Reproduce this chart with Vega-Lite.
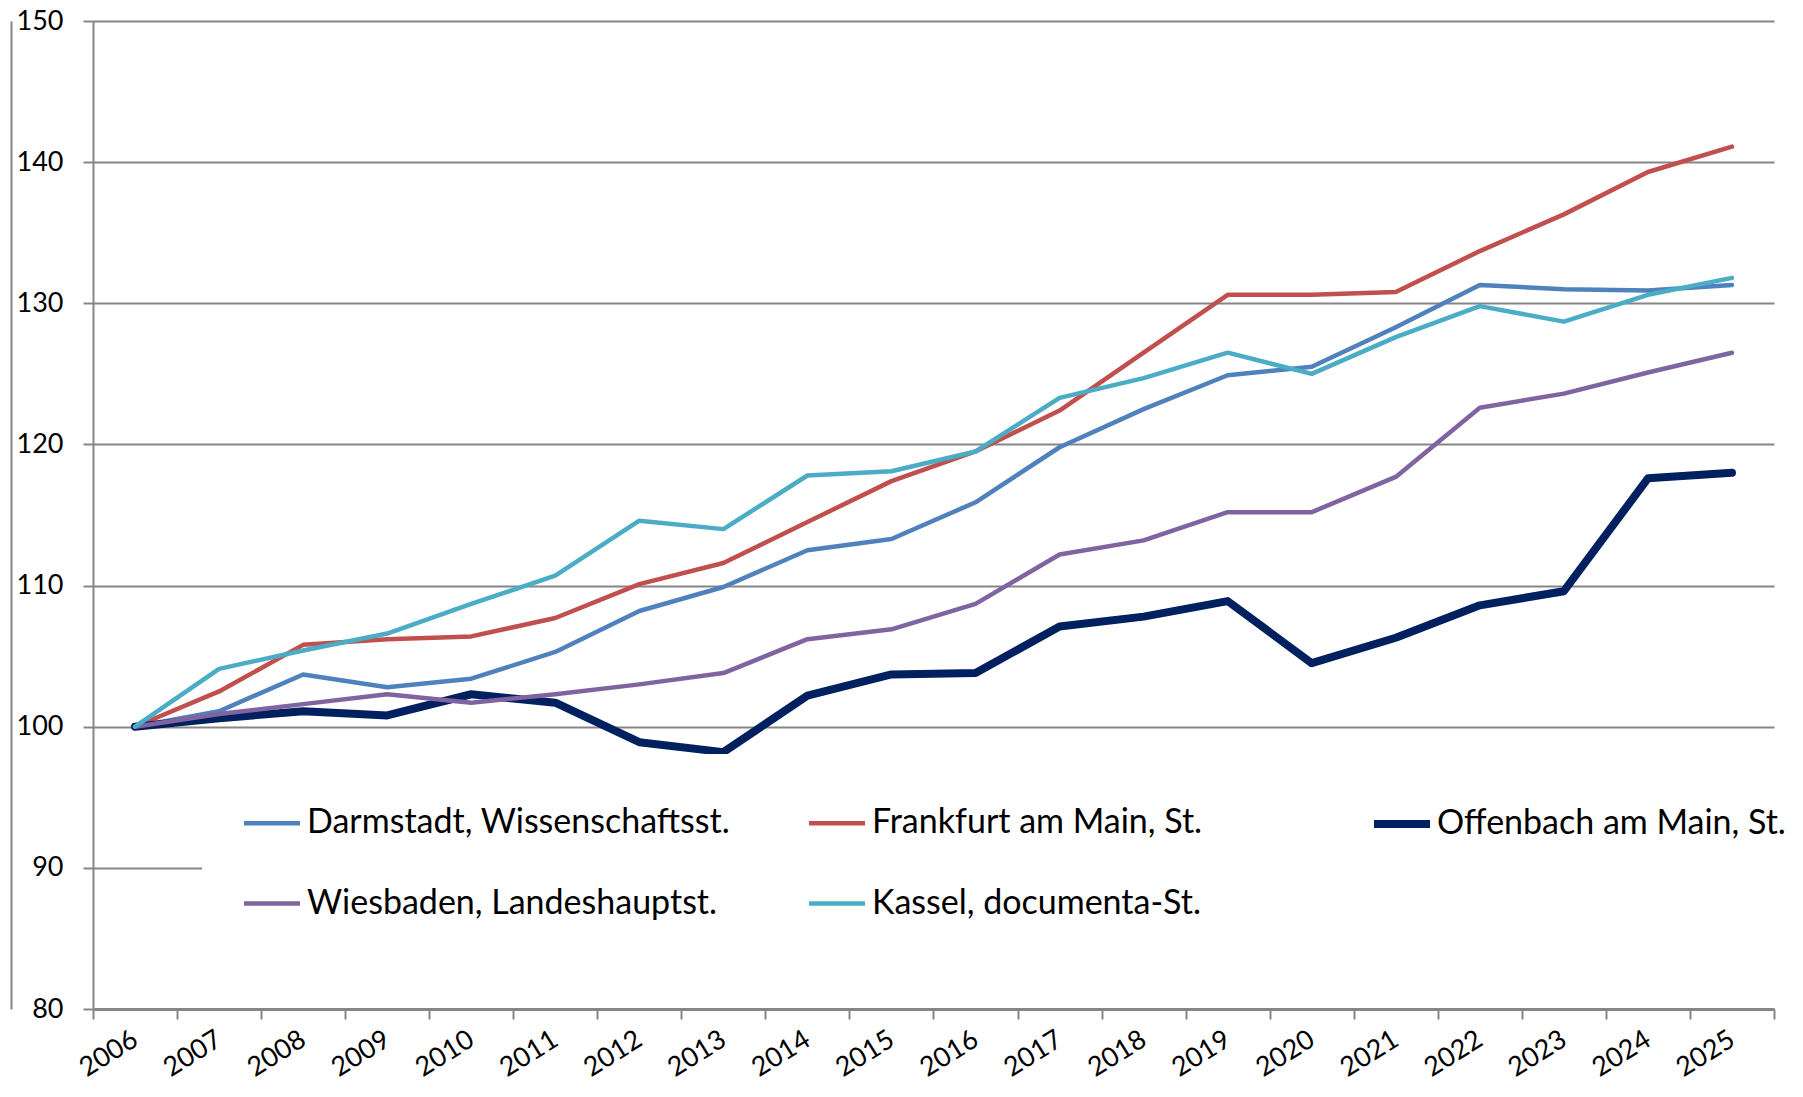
{
  "$schema": "https://vega.github.io/schema/vega-lite/v6.json",
  "width": 1681,
  "height": 988,
  "autosize": {"type": "none"},
  "padding": {"left": 93, "top": 21, "right": 29, "bottom": 88},
  "background": "white",
  "config": {
    "view": {"stroke": null},
    "font": "Lato",
    "axis": {"labelFont": "Lato", "labelColor": "black", "domainColor": "#868686", "tickColor": "#868686", "gridColor": "#868686", "title": null},
    "legend": {"labelFont": "Lato", "labelColor": "black"}
  },
  "data": {"values": [
    {"year": "2006", "city": "Darmstadt, Wissenschaftsst.", "value": 100},
    {"year": "2007", "city": "Darmstadt, Wissenschaftsst.", "value": 101.1},
    {"year": "2008", "city": "Darmstadt, Wissenschaftsst.", "value": 103.7},
    {"year": "2009", "city": "Darmstadt, Wissenschaftsst.", "value": 102.8},
    {"year": "2010", "city": "Darmstadt, Wissenschaftsst.", "value": 103.4},
    {"year": "2011", "city": "Darmstadt, Wissenschaftsst.", "value": 105.3},
    {"year": "2012", "city": "Darmstadt, Wissenschaftsst.", "value": 108.2},
    {"year": "2013", "city": "Darmstadt, Wissenschaftsst.", "value": 109.9},
    {"year": "2014", "city": "Darmstadt, Wissenschaftsst.", "value": 112.5},
    {"year": "2015", "city": "Darmstadt, Wissenschaftsst.", "value": 113.3},
    {"year": "2016", "city": "Darmstadt, Wissenschaftsst.", "value": 115.9},
    {"year": "2017", "city": "Darmstadt, Wissenschaftsst.", "value": 119.8},
    {"year": "2018", "city": "Darmstadt, Wissenschaftsst.", "value": 122.5},
    {"year": "2019", "city": "Darmstadt, Wissenschaftsst.", "value": 124.9},
    {"year": "2020", "city": "Darmstadt, Wissenschaftsst.", "value": 125.5},
    {"year": "2021", "city": "Darmstadt, Wissenschaftsst.", "value": 128.3},
    {"year": "2022", "city": "Darmstadt, Wissenschaftsst.", "value": 131.3},
    {"year": "2023", "city": "Darmstadt, Wissenschaftsst.", "value": 131.0},
    {"year": "2024", "city": "Darmstadt, Wissenschaftsst.", "value": 130.9},
    {"year": "2025", "city": "Darmstadt, Wissenschaftsst.", "value": 131.3},
    {"year": "2006", "city": "Frankfurt am Main, St.", "value": 100},
    {"year": "2007", "city": "Frankfurt am Main, St.", "value": 102.5},
    {"year": "2008", "city": "Frankfurt am Main, St.", "value": 105.8},
    {"year": "2009", "city": "Frankfurt am Main, St.", "value": 106.2},
    {"year": "2010", "city": "Frankfurt am Main, St.", "value": 106.4},
    {"year": "2011", "city": "Frankfurt am Main, St.", "value": 107.7},
    {"year": "2012", "city": "Frankfurt am Main, St.", "value": 110.1},
    {"year": "2013", "city": "Frankfurt am Main, St.", "value": 111.6},
    {"year": "2014", "city": "Frankfurt am Main, St.", "value": 114.5},
    {"year": "2015", "city": "Frankfurt am Main, St.", "value": 117.4},
    {"year": "2016", "city": "Frankfurt am Main, St.", "value": 119.5},
    {"year": "2017", "city": "Frankfurt am Main, St.", "value": 122.4},
    {"year": "2018", "city": "Frankfurt am Main, St.", "value": 126.5},
    {"year": "2019", "city": "Frankfurt am Main, St.", "value": 130.6},
    {"year": "2020", "city": "Frankfurt am Main, St.", "value": 130.6},
    {"year": "2021", "city": "Frankfurt am Main, St.", "value": 130.8},
    {"year": "2022", "city": "Frankfurt am Main, St.", "value": 133.7},
    {"year": "2023", "city": "Frankfurt am Main, St.", "value": 136.3},
    {"year": "2024", "city": "Frankfurt am Main, St.", "value": 139.3},
    {"year": "2025", "city": "Frankfurt am Main, St.", "value": 141.1},
    {"year": "2006", "city": "Offenbach am Main, St.", "value": 100},
    {"year": "2007", "city": "Offenbach am Main, St.", "value": 100.6},
    {"year": "2008", "city": "Offenbach am Main, St.", "value": 101.1},
    {"year": "2009", "city": "Offenbach am Main, St.", "value": 100.8},
    {"year": "2010", "city": "Offenbach am Main, St.", "value": 102.3},
    {"year": "2011", "city": "Offenbach am Main, St.", "value": 101.7},
    {"year": "2012", "city": "Offenbach am Main, St.", "value": 98.9},
    {"year": "2013", "city": "Offenbach am Main, St.", "value": 98.2},
    {"year": "2014", "city": "Offenbach am Main, St.", "value": 102.2},
    {"year": "2015", "city": "Offenbach am Main, St.", "value": 103.7},
    {"year": "2016", "city": "Offenbach am Main, St.", "value": 103.8},
    {"year": "2017", "city": "Offenbach am Main, St.", "value": 107.1},
    {"year": "2018", "city": "Offenbach am Main, St.", "value": 107.8},
    {"year": "2019", "city": "Offenbach am Main, St.", "value": 108.9},
    {"year": "2020", "city": "Offenbach am Main, St.", "value": 104.5},
    {"year": "2021", "city": "Offenbach am Main, St.", "value": 106.3},
    {"year": "2022", "city": "Offenbach am Main, St.", "value": 108.6},
    {"year": "2023", "city": "Offenbach am Main, St.", "value": 109.6},
    {"year": "2024", "city": "Offenbach am Main, St.", "value": 117.6},
    {"year": "2025", "city": "Offenbach am Main, St.", "value": 118.0},
    {"year": "2006", "city": "Wiesbaden, Landeshauptst.", "value": 100},
    {"year": "2007", "city": "Wiesbaden, Landeshauptst.", "value": 100.9},
    {"year": "2008", "city": "Wiesbaden, Landeshauptst.", "value": 101.6},
    {"year": "2009", "city": "Wiesbaden, Landeshauptst.", "value": 102.3},
    {"year": "2010", "city": "Wiesbaden, Landeshauptst.", "value": 101.7},
    {"year": "2011", "city": "Wiesbaden, Landeshauptst.", "value": 102.3},
    {"year": "2012", "city": "Wiesbaden, Landeshauptst.", "value": 103.0},
    {"year": "2013", "city": "Wiesbaden, Landeshauptst.", "value": 103.8},
    {"year": "2014", "city": "Wiesbaden, Landeshauptst.", "value": 106.2},
    {"year": "2015", "city": "Wiesbaden, Landeshauptst.", "value": 106.9},
    {"year": "2016", "city": "Wiesbaden, Landeshauptst.", "value": 108.7},
    {"year": "2017", "city": "Wiesbaden, Landeshauptst.", "value": 112.2},
    {"year": "2018", "city": "Wiesbaden, Landeshauptst.", "value": 113.2},
    {"year": "2019", "city": "Wiesbaden, Landeshauptst.", "value": 115.2},
    {"year": "2020", "city": "Wiesbaden, Landeshauptst.", "value": 115.2},
    {"year": "2021", "city": "Wiesbaden, Landeshauptst.", "value": 117.7},
    {"year": "2022", "city": "Wiesbaden, Landeshauptst.", "value": 122.6},
    {"year": "2023", "city": "Wiesbaden, Landeshauptst.", "value": 123.6},
    {"year": "2024", "city": "Wiesbaden, Landeshauptst.", "value": 125.1},
    {"year": "2025", "city": "Wiesbaden, Landeshauptst.", "value": 126.5},
    {"year": "2006", "city": "Kassel, documenta-St.", "value": 100},
    {"year": "2007", "city": "Kassel, documenta-St.", "value": 104.1},
    {"year": "2008", "city": "Kassel, documenta-St.", "value": 105.4},
    {"year": "2009", "city": "Kassel, documenta-St.", "value": 106.6},
    {"year": "2010", "city": "Kassel, documenta-St.", "value": 108.7},
    {"year": "2011", "city": "Kassel, documenta-St.", "value": 110.7},
    {"year": "2012", "city": "Kassel, documenta-St.", "value": 114.6},
    {"year": "2013", "city": "Kassel, documenta-St.", "value": 114.0},
    {"year": "2014", "city": "Kassel, documenta-St.", "value": 117.8},
    {"year": "2015", "city": "Kassel, documenta-St.", "value": 118.1},
    {"year": "2016", "city": "Kassel, documenta-St.", "value": 119.5},
    {"year": "2017", "city": "Kassel, documenta-St.", "value": 123.3},
    {"year": "2018", "city": "Kassel, documenta-St.", "value": 124.7},
    {"year": "2019", "city": "Kassel, documenta-St.", "value": 126.5},
    {"year": "2020", "city": "Kassel, documenta-St.", "value": 125.0},
    {"year": "2021", "city": "Kassel, documenta-St.", "value": 127.6},
    {"year": "2022", "city": "Kassel, documenta-St.", "value": 129.8},
    {"year": "2023", "city": "Kassel, documenta-St.", "value": 128.7},
    {"year": "2024", "city": "Kassel, documenta-St.", "value": 130.6},
    {"year": "2025", "city": "Kassel, documenta-St.", "value": 131.8}
  ]},
  "encoding": {
    "x": {
      "field": "year", "type": "ordinal",
      "scale": {"paddingInner": 0, "paddingOuter": 0},
      "axis": {
        "labelAngle": -32, "labelAlign": "right", "labelBaseline": "middle",
        "labelFontSize": 27, "labelPadding": 18, "tickSize": 10, "tickWidth": 2,
        "tickBand": "extent", "domainWidth": 3, "grid": false
      }
    }
  },
  "layer": [
    {
      "mark": {"type": "line", "strokeCap": "round", "strokeJoin": "round"},
      "encoding": {
        "y": {
          "field": "value", "type": "quantitative",
          "scale": {"domain": [80, 150], "zero": false, "nice": false},
          "axis": {
            "values": [80, 90, 100, 110, 120, 130, 140, 150],
            "labelFontSize": 27, "labelPadding": 20, "tickSize": 10, "tickWidth": 2,
            "domainWidth": 2, "grid": true, "gridWidth": 2, "orient": "left"
          }
        },
        "color": {
          "field": "city", "type": "nominal",
          "scale": {
            "domain": ["Darmstadt, Wissenschaftsst.", "Frankfurt am Main, St.", "Offenbach am Main, St.", "Wiesbaden, Landeshauptst.", "Kassel, documenta-St."],
            "range": ["#4F81BD", "#C0504D", "#002060", "#8064A2", "#4BACC6"]
          },
          "legend": {
            "title": null, "orient": "none", "legendX": 109, "legendY": 733,
            "direction": "horizontal", "columns": 3, "gridAlign": "all",
            "symbolType": "stroke", "symbolSize": 3136, "labelFontSize": 34,
            "labelOffset": 3, "labelLimit": 0, "columnPadding": 62, "rowPadding": 32,
            "padding": 38, "fillColor": "white"
          }
        },
        "strokeWidth": {
          "field": "city", "type": "nominal",
          "scale": {
            "type": "ordinal",
            "domain": ["Darmstadt, Wissenschaftsst.", "Frankfurt am Main, St.", "Offenbach am Main, St.", "Wiesbaden, Landeshauptst.", "Kassel, documenta-St."],
            "range": [4.5, 4.5, 8, 4.5, 4.5]
          },
          "legend": {
            "title": null, "orient": "none", "legendX": 109, "legendY": 733,
            "direction": "horizontal", "columns": 3, "gridAlign": "all",
            "symbolType": "stroke", "symbolSize": 3136, "labelFontSize": 34,
            "labelOffset": 3, "labelLimit": 0, "columnPadding": 62, "rowPadding": 32,
            "padding": 38, "fillColor": "white"
          }
        },
        "order": {"field": "year"}
      }
    },
    {
      "mark": {"type": "point", "opacity": 0},
      "encoding": {
        "y": {
          "field": "value", "type": "quantitative",
          "axis": {"orient": "left", "offset": 82, "labels": false, "ticks": false, "grid": false, "domainWidth": 2, "domainColor": "#868686"}
        }
      }
    }
  ],
  "resolve": {"axis": {"y": "independent"}}
}
